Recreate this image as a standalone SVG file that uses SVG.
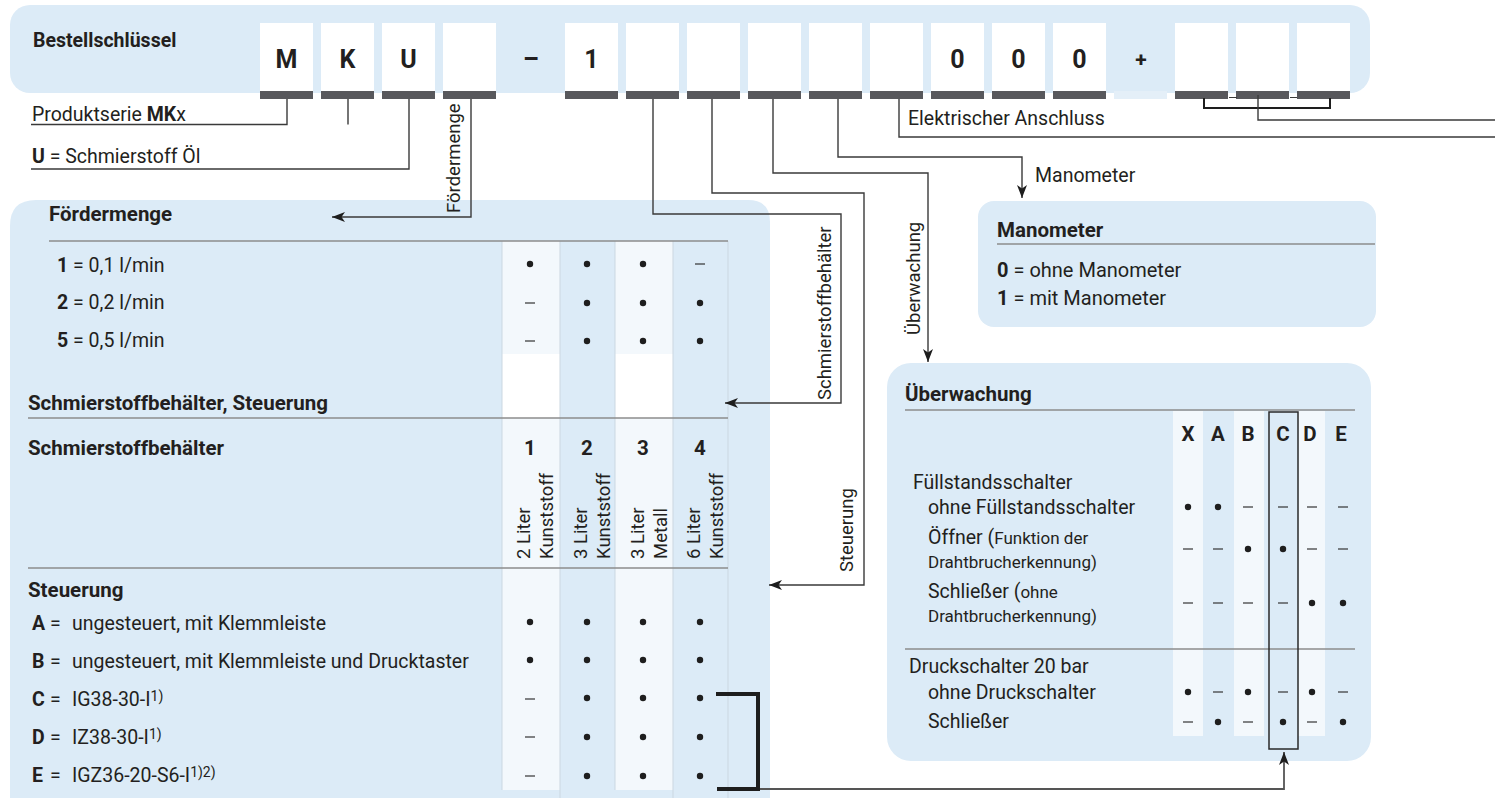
<svg xmlns="http://www.w3.org/2000/svg" width="1495" height="798" viewBox="0 0 1495 798">
<style>
.bg{fill:#DCEBF7}
.lt{fill:#F3F8FC}
.slot{fill:#FFFFFF}
.bar{fill:#58585C}
.t{font-family:Roboto,"Liberation Sans",sans-serif;font-size:19.5px;fill:#231F20}
.b{font-family:Roboto,"Liberation Sans",sans-serif;font-size:20.5px;font-weight:bold;fill:#231F20}
.s{font-size:17px}
.sup{font-size:14px}
.big{font-family:Roboto,"Liberation Sans",sans-serif;font-size:25px;font-weight:bold;fill:#231F20;text-anchor:middle}
.rot{font-family:Roboto,"Liberation Sans",sans-serif;font-size:18.5px;fill:#231F20}
.c{text-anchor:middle}
.rule{stroke:#8C8C8C;stroke-width:1.5;fill:none}
.sep{stroke:#CBD7E1;stroke-width:1;fill:none}
.con{stroke:#3A3A3A;stroke-width:1.4;fill:none}
.dot{fill:#1E1E1E}
.dash{stroke:#333;stroke-width:1.2}
</style>
<defs>
<marker id="ah" markerUnits="userSpaceOnUse" markerWidth="14" markerHeight="10" refX="13" refY="5" orient="auto">
<path d="M0,0 L13,5 L0,10 L3.5,5 Z" fill="#1E1E1E"/>
</marker>
</defs>

<g id="bestellschluessel">
<rect class="bg" x="10" y="5" width="1360" height="88" rx="20"/>
<text class="b" x="33" y="47" style="font-size:19.5px">Bestellschlüssel</text>
<g id="slots">
<rect class="slot" x="260" y="23" width="53" height="68"/><rect class="bar" x="260" y="91" width="53" height="8"/>
<rect class="slot" x="321" y="23" width="53" height="68"/><rect class="bar" x="321" y="91" width="53" height="8"/>
<rect class="slot" x="382" y="23" width="53" height="68"/><rect class="bar" x="382" y="91" width="53" height="8"/>
<rect class="slot" x="443" y="23" width="53" height="68"/><rect class="bar" x="443" y="91" width="53" height="8"/>
<rect class="slot" x="565" y="23" width="53" height="68"/><rect class="bar" x="565" y="91" width="53" height="8"/>
<rect class="slot" x="626" y="23" width="53" height="68"/><rect class="bar" x="626" y="91" width="53" height="8"/>
<rect class="slot" x="687" y="23" width="53" height="68"/><rect class="bar" x="687" y="91" width="53" height="8"/>
<rect class="slot" x="748" y="23" width="53" height="68"/><rect class="bar" x="748" y="91" width="53" height="8"/>
<rect class="slot" x="809" y="23" width="53" height="68"/><rect class="bar" x="809" y="91" width="53" height="8"/>
<rect class="slot" x="870" y="23" width="53" height="68"/><rect class="bar" x="870" y="91" width="53" height="8"/>
<rect class="slot" x="931" y="23" width="53" height="68"/><rect class="bar" x="931" y="91" width="53" height="8"/>
<rect class="slot" x="992" y="23" width="53" height="68"/><rect class="bar" x="992" y="91" width="53" height="8"/>
<rect class="slot" x="1053" y="23" width="53" height="68"/><rect class="bar" x="1053" y="91" width="53" height="8"/>
<rect x="1114" y="91" width="53" height="8" fill="#E4EFF8"/>
<rect class="slot" x="1175" y="23" width="53" height="68"/><rect class="bar" x="1175" y="91" width="53" height="8"/>
<rect class="slot" x="1236" y="23" width="53" height="68"/><rect class="bar" x="1236" y="91" width="53" height="8"/>
<rect class="slot" x="1297" y="23" width="53" height="68"/><rect class="bar" x="1297" y="91" width="53" height="8"/>
</g>
<text class="big" x="286.5" y="68">M</text>
<text class="big" x="347.5" y="68">K</text>
<text class="big" x="408.5" y="68">U</text>
<text class="big" x="531" y="68">–</text>
<text class="big" x="591.5" y="68">1</text>
<text class="big" x="957.5" y="68">0</text>
<text class="big" x="1018.5" y="68">0</text>
<text class="big" x="1079.5" y="68">0</text>
<text class="big" x="1141" y="67" style="font-size:21px">+</text>
</g>

<g id="foerdermenge-panel">
<path class="bg" d="M10,226 Q10,200 36,200 H748 Q770,200 770,222 V798 H10 Z"/>
<rect x="502" y="241" width="58" height="113" class="lt"/>
<rect x="615" y="241" width="58" height="113" class="lt"/>
<rect x="502" y="354" width="58" height="64" fill="#FFFFFF"/>
<rect x="615" y="354" width="58" height="64" fill="#FFFFFF"/>
<rect x="502" y="418" width="58" height="372" class="lt"/>
<rect x="615" y="418" width="58" height="372" class="lt"/>
<path class="sep" d="M502,241 V790 M560,241 V798 M615,241 V790 M673,241 V798 M728,241 V798"/>
<text class="b" x="49" y="221">Fördermenge</text>
<line class="rule" x1="49" y1="241" x2="728" y2="241"/>
<text class="t" x="57" y="272"><tspan font-weight="bold">1</tspan> = 0,1 l/min</text>
<text class="t" x="57" y="309"><tspan font-weight="bold">2</tspan> = 0,2 l/min</text>
<text class="t" x="57" y="347"><tspan font-weight="bold">5</tspan> = 0,5 l/min</text>
<g id="fm-marks">
<circle class="dot" cx="530" cy="264" r="3.2"/><circle class="dot" cx="587" cy="264" r="3.2"/><circle class="dot" cx="643" cy="264" r="3.2"/><line class="dash" x1="695" y1="264" x2="705" y2="264"/>
<line class="dash" x1="525" y1="303" x2="535" y2="303"/><circle class="dot" cx="587" cy="303" r="3.2"/><circle class="dot" cx="643" cy="303" r="3.2"/><circle class="dot" cx="700" cy="303" r="3.2"/>
<line class="dash" x1="525" y1="341" x2="535" y2="341"/><circle class="dot" cx="587" cy="341" r="3.2"/><circle class="dot" cx="643" cy="341" r="3.2"/><circle class="dot" cx="700" cy="341" r="3.2"/>
</g>
<text class="b" x="28" y="410">Schmierstoffbehälter, Steuerung</text>
<line class="rule" x1="28" y1="418" x2="728" y2="418"/>
<text class="b" x="28" y="455">Schmierstoffbehälter</text>
<text class="b c" x="530" y="455">1</text>
<text class="b c" x="587" y="455">2</text>
<text class="b c" x="643" y="455">3</text>
<text class="b c" x="700" y="455">4</text>
<text class="rot" transform="translate(530,559) rotate(-90)">2 Liter</text>
<text class="rot" transform="translate(553,559) rotate(-90)">Kunststoff</text>
<text class="rot" transform="translate(587,559) rotate(-90)">3 Liter</text>
<text class="rot" transform="translate(610,559) rotate(-90)">Kunststoff</text>
<text class="rot" transform="translate(644,559) rotate(-90)">3 Liter</text>
<text class="rot" transform="translate(667,559) rotate(-90)">Metall</text>
<text class="rot" transform="translate(700,559) rotate(-90)">6 Liter</text>
<text class="rot" transform="translate(723,559) rotate(-90)">Kunststoff</text>
<line class="rule" x1="28" y1="568" x2="728" y2="568"/>
<text class="b" x="28" y="597">Steuerung</text>
<text class="t" x="32" y="630"><tspan font-weight="bold">A</tspan></text><text class="t" x="50" y="630">=</text><text class="t" x="72" y="630">ungesteuert, mit Klemmleiste</text>
<text class="t" x="32" y="668"><tspan font-weight="bold">B</tspan></text><text class="t" x="50" y="668">=</text><text class="t" x="72" y="668">ungesteuert, mit Klemmleiste und Drucktaster</text>
<text class="t" x="32" y="706"><tspan font-weight="bold">C</tspan></text><text class="t" x="50" y="706">=</text><text class="t" x="72" y="706">IG38-30-I<tspan class="sup" dy="-5">1)</tspan></text>
<text class="t" x="32" y="744"><tspan font-weight="bold">D</tspan></text><text class="t" x="50" y="744">=</text><text class="t" x="72" y="744">IZ38-30-I<tspan class="sup" dy="-5">1)</tspan></text>
<text class="t" x="32" y="782"><tspan font-weight="bold">E</tspan></text><text class="t" x="50" y="782">=</text><text class="t" x="72" y="782">IGZ36-20-S6-I<tspan class="sup" dy="-5">1)2)</tspan></text>
<g id="st-marks">
<circle class="dot" cx="530" cy="622" r="3.2"/><circle class="dot" cx="587" cy="622" r="3.2"/><circle class="dot" cx="643" cy="622" r="3.2"/><circle class="dot" cx="700" cy="622" r="3.2"/>
<circle class="dot" cx="530" cy="660" r="3.2"/><circle class="dot" cx="587" cy="660" r="3.2"/><circle class="dot" cx="643" cy="660" r="3.2"/><circle class="dot" cx="700" cy="660" r="3.2"/>
<line class="dash" x1="525" y1="699" x2="535" y2="699"/><circle class="dot" cx="587" cy="698" r="3.2"/><circle class="dot" cx="643" cy="698" r="3.2"/><circle class="dot" cx="700" cy="698" r="3.2"/>
<line class="dash" x1="525" y1="737" x2="535" y2="737"/><circle class="dot" cx="587" cy="737" r="3.2"/><circle class="dot" cx="643" cy="737" r="3.2"/><circle class="dot" cx="700" cy="737" r="3.2"/>
<line class="dash" x1="525" y1="776" x2="535" y2="776"/><circle class="dot" cx="587" cy="776" r="3.2"/><circle class="dot" cx="643" cy="776" r="3.2"/><circle class="dot" cx="700" cy="776" r="3.2"/>
</g>
</g>

<g id="manometer-panel">
<rect class="bg" x="978" y="201" width="398" height="126" rx="16"/>
<text class="b" x="997" y="237">Manometer</text>
<line class="rule" x1="997" y1="244" x2="1375" y2="244"/>
<text class="t" x="997" y="277" style="font-size:20px"><tspan font-weight="bold">0</tspan> = ohne Manometer</text>
<text class="t" x="997" y="305" style="font-size:20px"><tspan font-weight="bold">1</tspan> = mit Manometer</text>
</g>

<g id="ueberwachung-panel">
<rect class="bg" x="887" y="363" width="484" height="398" rx="24"/>
<rect class="lt" x="1173" y="411" width="30" height="325"/>
<rect class="lt" x="1234" y="411" width="30" height="325"/>
<rect class="lt" x="1298" y="411" width="27" height="325"/>
<text class="b" x="905" y="401">Überwachung</text>
<line class="rule" x1="905" y1="410" x2="1355" y2="410"/>
<line class="rule" x1="905" y1="649" x2="1355" y2="649"/>
<rect x="1269" y="412" width="29" height="337" fill="none" stroke="#2A2A2A" stroke-width="1.5"/>
<text class="b c" x="1188" y="441">X</text>
<text class="b c" x="1218" y="441">A</text>
<text class="b c" x="1248" y="441">B</text>
<text class="b c" x="1283" y="441">C</text>
<text class="b c" x="1310" y="441">D</text>
<text class="b c" x="1341" y="441">E</text>
<text class="t" x="913" y="489">Füllstandsschalter</text>
<text class="t" x="928" y="514">ohne Füllstandsschalter</text>
<text class="t" x="928" y="544">Öffner (<tspan class="s">Funktion der</tspan></text>
<text class="t s" x="928" y="568">Drahtbrucherkennung)</text>
<text class="t" x="928" y="598">Schließer (<tspan class="s">ohne</tspan></text>
<text class="t s" x="928" y="622">Drahtbrucherkennung)</text>
<text class="t" x="909" y="673">Druckschalter 20 bar</text>
<text class="t" x="928" y="699">ohne Druckschalter</text>
<text class="t" x="928" y="728">Schließer</text>
<g id="ue-marks">
<circle class="dot" cx="1188" cy="507" r="3.2"/><circle class="dot" cx="1218" cy="507" r="3.2"/><line class="dash" x1="1243" y1="507" x2="1253" y2="507"/><line class="dash" x1="1278" y1="507" x2="1288" y2="507"/><line class="dash" x1="1307" y1="507" x2="1317" y2="507"/><line class="dash" x1="1338" y1="507" x2="1348" y2="507"/>
<line class="dash" x1="1183" y1="549" x2="1193" y2="549"/><line class="dash" x1="1213" y1="549" x2="1223" y2="549"/><circle class="dot" cx="1248" cy="549" r="3.2"/><circle class="dot" cx="1283" cy="549" r="3.2"/><line class="dash" x1="1307" y1="549" x2="1317" y2="549"/><line class="dash" x1="1338" y1="549" x2="1348" y2="549"/>
<line class="dash" x1="1183" y1="603" x2="1193" y2="603"/><line class="dash" x1="1213" y1="603" x2="1223" y2="603"/><line class="dash" x1="1243" y1="603" x2="1253" y2="603"/><line class="dash" x1="1278" y1="603" x2="1288" y2="603"/><circle class="dot" cx="1312" cy="603" r="3.2"/><circle class="dot" cx="1343" cy="603" r="3.2"/>
<circle class="dot" cx="1188" cy="692" r="3.2"/><line class="dash" x1="1213" y1="692" x2="1223" y2="692"/><circle class="dot" cx="1248" cy="692" r="3.2"/><line class="dash" x1="1278" y1="692" x2="1288" y2="692"/><circle class="dot" cx="1312" cy="692" r="3.2"/><line class="dash" x1="1338" y1="692" x2="1348" y2="692"/>
<line class="dash" x1="1183" y1="722" x2="1193" y2="722"/><circle class="dot" cx="1218" cy="722" r="3.2"/><line class="dash" x1="1243" y1="722" x2="1253" y2="722"/><circle class="dot" cx="1283" cy="722" r="3.2"/><line class="dash" x1="1307" y1="722" x2="1317" y2="722"/><circle class="dot" cx="1343" cy="722" r="3.2"/>
</g>
</g>

<g id="labels">
<text class="t" x="32" y="121">Produktserie <tspan font-weight="bold">MK</tspan>x</text>
<text class="t" x="32" y="163"><tspan font-weight="bold">U</tspan> = Schmierstoff Öl</text>
<text class="t" x="908" y="125">Elektrischer Anschluss</text>
<text class="t" x="1035" y="182">Manometer</text>
<text class="rot" transform="translate(460,213) rotate(-90)">Fördermenge</text>
<text class="rot" transform="translate(831,400) rotate(-90)">Schmierstoffbehälter</text>
<text class="rot" transform="translate(853,572) rotate(-90)">Steuerung</text>
<text class="rot" transform="translate(920,335) rotate(-90)">Überwachung</text>
</g>

<g id="connectors">
<path class="con" d="M287,99 V124.5 H31"/>
<path class="con" d="M348,99 V124.5"/>
<path class="con" d="M409,99 V169 H31"/>
<path class="con" d="M471,99 V217 H332" marker-end="url(#ah)"/>
<path class="con" d="M653,99 V214 H841 V403 H725" marker-end="url(#ah)"/>
<path class="con" d="M712,99 V193 H864 V585 H769" marker-end="url(#ah)"/>
<path class="con" d="M773,99 V173 H928 V362" marker-end="url(#ah)"/>
<path class="con" d="M838,99 V157 H1022 V198" marker-end="url(#ah)"/>
<path class="con" d="M899,99 V137 H1495"/>
<path d="M1204,98 V108 H1330 V98" fill="none" stroke="#1E1E1E" stroke-width="2"/>
<path d="M1229,97.5 H1237 M1290,97.5 H1297" stroke="#3A3A3A" stroke-width="1.2"/>
<path class="con" d="M1258,95 V120 H1495" stroke="#555" stroke-width="1.6"/>
<path d="M716,694 H758 V789 H717" fill="none" stroke="#1E1E1E" stroke-width="4"/>
<path d="M760,789 H1284 V752" fill="none" stroke="#555" stroke-width="1.8" marker-end="url(#ah)"/>
</g>
</svg>
